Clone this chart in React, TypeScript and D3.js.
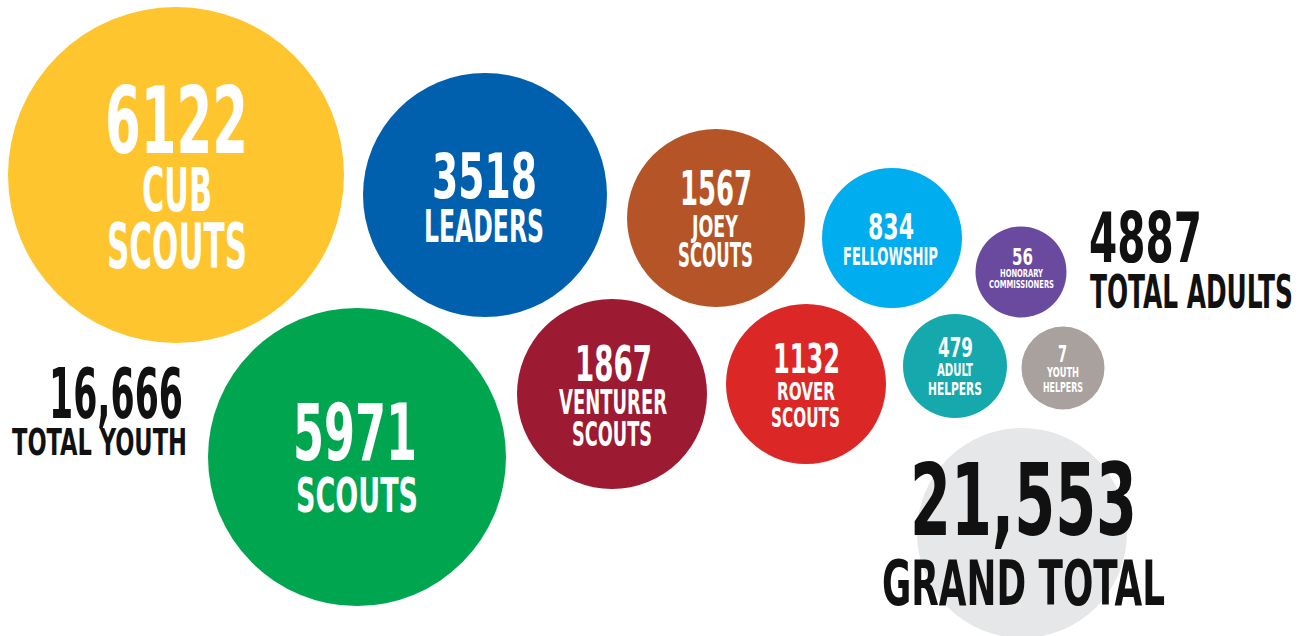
import React from "react";
import * as d3 from "d3";

// member counts by section
const sections = [
  "CUB SCOUTS",
  "SCOUTS",
  "LEADERS",
  "VENTURER SCOUTS",
  "JOEY SCOUTS",
  "ROVER SCOUTS",
  "FELLOWSHIP",
  "ADULT HELPERS",
  "HONORARY COMMISSIONERS",
  "YOUTH HELPERS",
];
const counts = [6122, 5971, 3518, 1867, 1567, 1132, 834, 479, 56, 7];
const labelLines = [
  ["CUB", "SCOUTS"],
  ["SCOUTS"],
  ["LEADERS"],
  ["VENTURER", "SCOUTS"],
  ["JOEY", "SCOUTS"],
  ["ROVER", "SCOUTS"],
  ["FELLOWSHIP"],
  ["ADULT", "HELPERS"],
  ["HONORARY", "COMMISSIONERS"],
  ["YOUTH", "HELPERS"],
];
const sectionColors = [
  "#FFC52E",
  "#00A64F",
  "#0060AE",
  "#9C1A32",
  "#B55527",
  "#DB2827",
  "#00ADEE",
  "#15A9AD",
  "#6A4A9E",
  "#A8A19E",
];

const totalLabels = ["TOTAL YOUTH", "TOTAL ADULTS", "GRAND TOTAL"];
const totals = [16666, 4887, 21553];

// hand placed layout of the infographic: circle + text boxes [top, capHeight, centerX, width]
type Box = [number, number, number, number];
const bubbleLayout: { cx: number; cy: number; r: number; num: Box; lines: Box[] }[] = [
  { cx: 176, cy: 175, r: 168, num: [86, 67, 176.5, 143], lines: [[168, 43, 177, 70], [223, 45, 177, 140]] },
  { cx: 357, cy: 457, r: 149, num: [403, 57, 355, 124], lines: [[477, 35, 357, 122]] },
  { cx: 485, cy: 195, r: 122, num: [153, 45, 484.5, 105], lines: [[210, 32, 484, 120]] },
  { cx: 612, cy: 394, r: 95, num: [345, 36, 613.5, 77], lines: [[390, 24, 613, 108], [422, 24, 612, 80]] },
  { cx: 716, cy: 218, r: 89, num: [170, 35, 716, 72], lines: [[215, 22, 715, 46], [243, 24, 715.5, 75]] },
  { cx: 806, cy: 384, r: 80, num: [343, 30, 806.5, 67], lines: [[382, 18, 806, 58], [408, 19, 805.5, 69]] },
  { cx: 892, cy: 238, r: 70, num: [213, 26, 891, 46], lines: [[247, 18, 890.5, 95]] },
  { cx: 955, cy: 366, r: 52, num: [338, 19, 955.5, 35], lines: [[363, 13, 955, 36], [382, 13, 955, 54]] },
  { cx: 1021, cy: 272, r: 45.5, num: [248, 17, 1022.5, 21], lines: [[270, 7, 1021.5, 43], [280, 8, 1021.5, 65]] },
  { cx: 1063, cy: 368, r: 41.5, num: [345, 17, 1062.5, 9], lines: [[367, 10, 1063, 32], [382, 10, 1063, 40]] },
];
const totalLayout: { num: Box; label: Box }[] = [
  { num: [368, 50, 116, 134], label: [428, 27, 99.5, 175] },
  { num: [212, 50, 1145.5, 113], label: [275, 33, 1191.5, 203] },
  { num: [463, 72, 1023.5, 227], label: [560, 45, 1023.5, 283] },
];
const grandCircle = { cx: 1022, cy: 533, r: 105 };

const FONT = "'Liberation Sans Narrow', 'DejaVu Sans Condensed', sans-serif";
const CAP = 0.72;

const color = d3.scaleOrdinal<string, string>().domain(sections).range(sectionColors);
const fmt = (v: number) => (v >= 10000 ? d3.format(",")(v) : String(v));

const Label = ({ box, text, fill }: { box: Box; text: string; fill: string }) => {
  const [top, h, x, w] = box;
  return (
    <text
      x={x}
      y={top + h}
      fill={fill}
      fontFamily={FONT}
      fontWeight={700}
      fontSize={h / CAP}
      textAnchor="middle"
      textLength={w}
      lengthAdjust="spacingAndGlyphs"
    >
      {text}
    </text>
  );
};

export default function App() {
  return (
    <svg
      width={1311}
      height={636}
      style={{ position: "absolute", left: 0, top: 0, background: "#fff" }}
    >
      <circle cx={grandCircle.cx} cy={grandCircle.cy} r={grandCircle.r} fill="#E6E7E8" />
      {sections.map((s, i) => {
        const l = bubbleLayout[i];
        return (
          <g key={s}>
            <circle cx={l.cx} cy={l.cy} r={l.r} fill={color(s)} />
            <Label box={l.num} text={fmt(counts[i])} fill="#fff" />
            {labelLines[i].map((t, j) => (
              <Label key={j} box={l.lines[j]} text={t} fill="#fff" />
            ))}
          </g>
        );
      })}
      {totals.map((v, i) => (
        <g key={totalLabels[i]}>
          <Label box={totalLayout[i].num} text={fmt(v)} fill="#111" />
          <Label box={totalLayout[i].label} text={totalLabels[i]} fill="#111" />
        </g>
      ))}
    </svg>
  );
}
